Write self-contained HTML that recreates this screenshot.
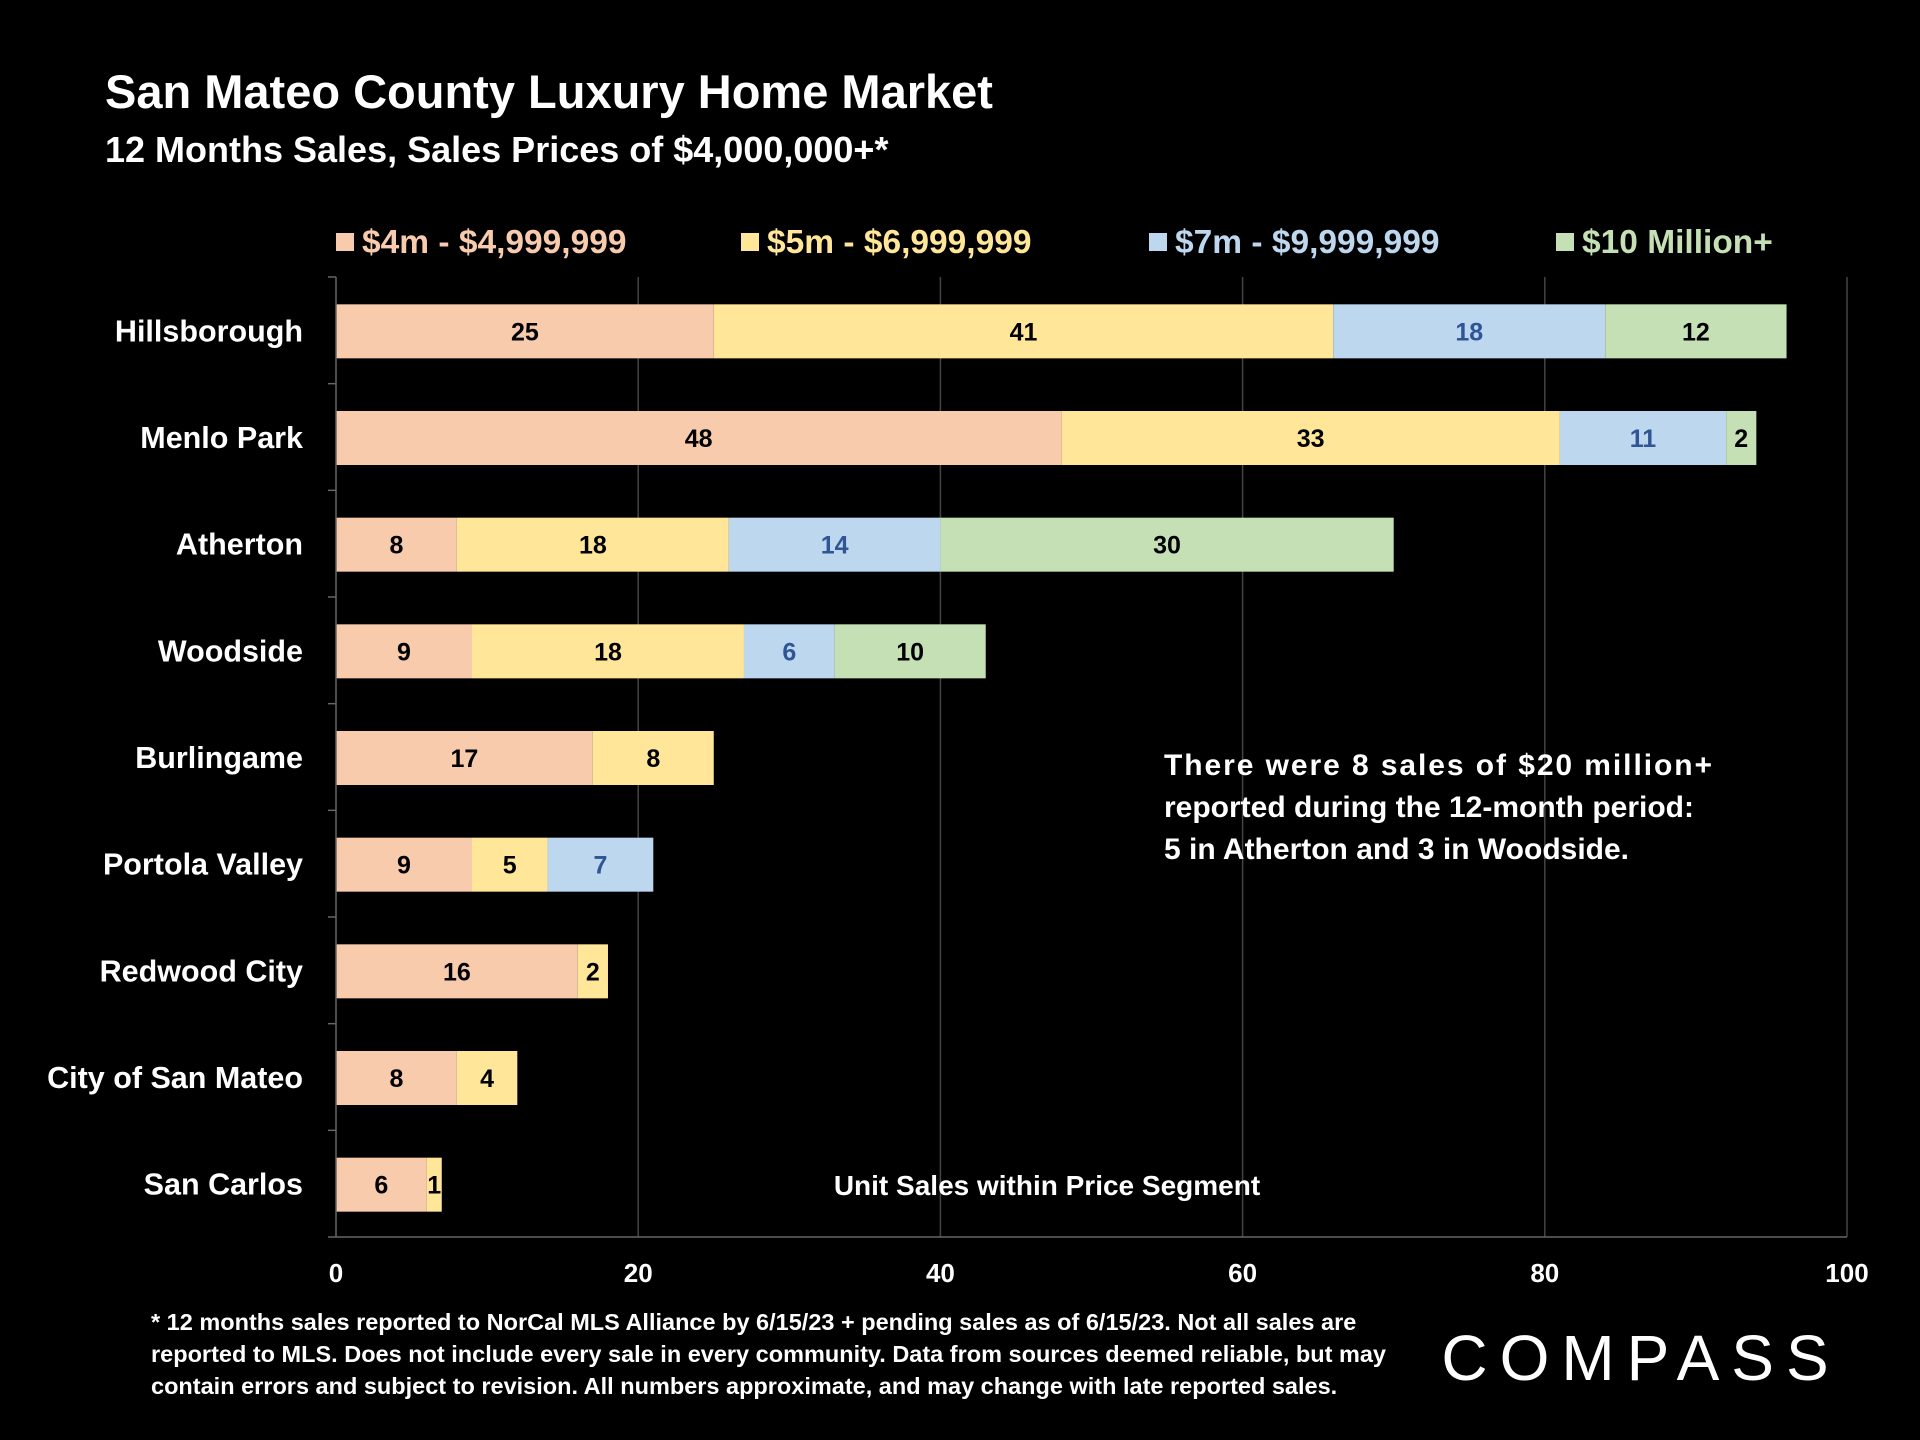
<!DOCTYPE html>
<html><head><meta charset="utf-8"><style>
html,body{margin:0;padding:0;background:#000;}
svg{display:block;font-family:"Liberation Sans",sans-serif;font-weight:bold;}
</style></head><body>
<svg id="chart" width="1920" height="1440" viewBox="0 0 1920 1440">
<rect width="1920" height="1440" fill="#000"/>
<text x="105" y="108" fill="#fff" font-size="47">San Mateo County Luxury Home Market</text>
<text x="105" y="162" fill="#fff" font-size="36">12 Months Sales, Sales Prices of $4,000,000+*</text>
<g id="legend"></g>
<g id="grid"></g>
<g id="bars"></g>
<g id="axis"></g>
<text font-size="30" fill="#fff">
<tspan x="1164" y="775" textLength="548" lengthAdjust="spacing">There were 8 sales of $20 million+</tspan>
<tspan x="1164" y="817">reported during the 12-month period:</tspan>
<tspan x="1164" y="859">5 in Atherton and 3 in Woodside.</tspan>
</text>
<text x="1047" y="1195" font-size="28" fill="#fff" text-anchor="middle">Unit Sales within Price Segment</text>
<text font-size="23.5" fill="#fff">
<tspan x="151" y="1330">* 12 months sales reported to NorCal MLS Alliance by 6/15/23 + pending sales as of 6/15/23. Not all sales are</tspan>
<tspan x="151" y="1362">reported to MLS. Does not include every sale in every community. Data from  sources deemed reliable, but may</tspan>
<tspan x="151" y="1394">contain errors and subject to revision. All numbers approximate, and may change with late reported sales.</tspan>
</text>
<text x="1641" y="1380" font-size="64" font-weight="normal" fill="#fff" text-anchor="middle" letter-spacing="12">COMPASS</text>
<script>
const categories=["Hillsborough","Menlo Park","Atherton","Woodside","Burlingame","Portola Valley","Redwood City","City of San Mateo","San Carlos"];
const s4m=[25,48,8,9,17,9,16,8,6];
const s5m=[41,33,18,18,8,5,2,4,1];
const s7m=[18,11,14,6,0,7,0,0,0];
const s10m=[12,2,30,10,0,0,0,0,0];
const seriesNames=["$4m - $4,999,999","$5m - $6,999,999","$7m - $9,999,999","$10 Million+"];
const ticks=[0,20,40,60,80,100];
const series=[s4m,s5m,s7m,s10m];
const colors=["#f8cbad","#ffe699","#bdd7ee","#c5e0b4"];
const labelColors=["#000","#000","#2f5597","#000"];
const NS="http://www.w3.org/2000/svg";
const x0=336,x1=1847,plotTop=277,plotBottom=1237,rowH=(plotBottom-plotTop)/categories.length,barH=54;
const xs=v=>x0+(x1-x0)*v/100;
const yc=i=>plotTop+rowH*(i+0.5)+1;
function mk(tag,attrs,parent){const e=document.createElementNS(NS,tag);for(const k in attrs)e.setAttribute(k,attrs[k]);parent.appendChild(e);return e;}
const grid=document.getElementById('grid'),bars=document.getElementById('bars'),axis=document.getElementById('axis'),legend=document.getElementById('legend');
ticks.forEach(t=>{if(t>0){const l=mk('line',{x1:xs(t),x2:xs(t),y1:plotTop,y2:plotBottom,stroke:'#444','stroke-width':1.5},grid);

}
const tl=mk('text',{x:xs(t),y:1282,'font-size':26,fill:'#fff','text-anchor':'middle'},axis);tl.textContent=t;

});
mk('line',{x1:x0,x2:x0,y1:plotTop,y2:plotBottom,stroke:'#666','stroke-width':1.5},axis);
mk('line',{x1:x0,x2:x1,y1:plotBottom,y2:plotBottom,stroke:'#666','stroke-width':1.5},axis);
for(let i=0;i<=categories.length;i++){mk('line',{x1:x0-8,x2:x0,y1:plotTop+rowH*i,y2:plotTop+rowH*i,stroke:'#666','stroke-width':1.5},axis);}
categories.forEach((c,i)=>{
const cl=mk('text',{x:303,y:yc(i)+10,'font-size':30.5,fill:'#fff','text-anchor':'end'},axis);cl.textContent=c;


let acc=0;
series.forEach((s,k)=>{const v=s[i];if(!v)return;
const r=mk('rect',{x:xs(acc),y:yc(i)-barH/2,width:xs(acc+v)-xs(acc),height:barH,fill:colors[k]},bars);


const t=mk('text',{x:(xs(acc)+xs(acc+v))/2,y:yc(i)+9,'font-size':25,fill:labelColors[k],'text-anchor':'middle'},bars);t.textContent=v;


acc+=v;});
});
const lx=[336,741,1149,1556];
seriesNames.forEach((n,k)=>{
const r=mk('rect',{x:lx[k],y:233,width:18,height:18,fill:colors[k]},legend);


const t=mk('text',{x:lx[k]+26,y:253,'font-size':33.5,fill:colors[k]},legend);t.textContent=n;

});
</script>
</svg>
</body></html>
